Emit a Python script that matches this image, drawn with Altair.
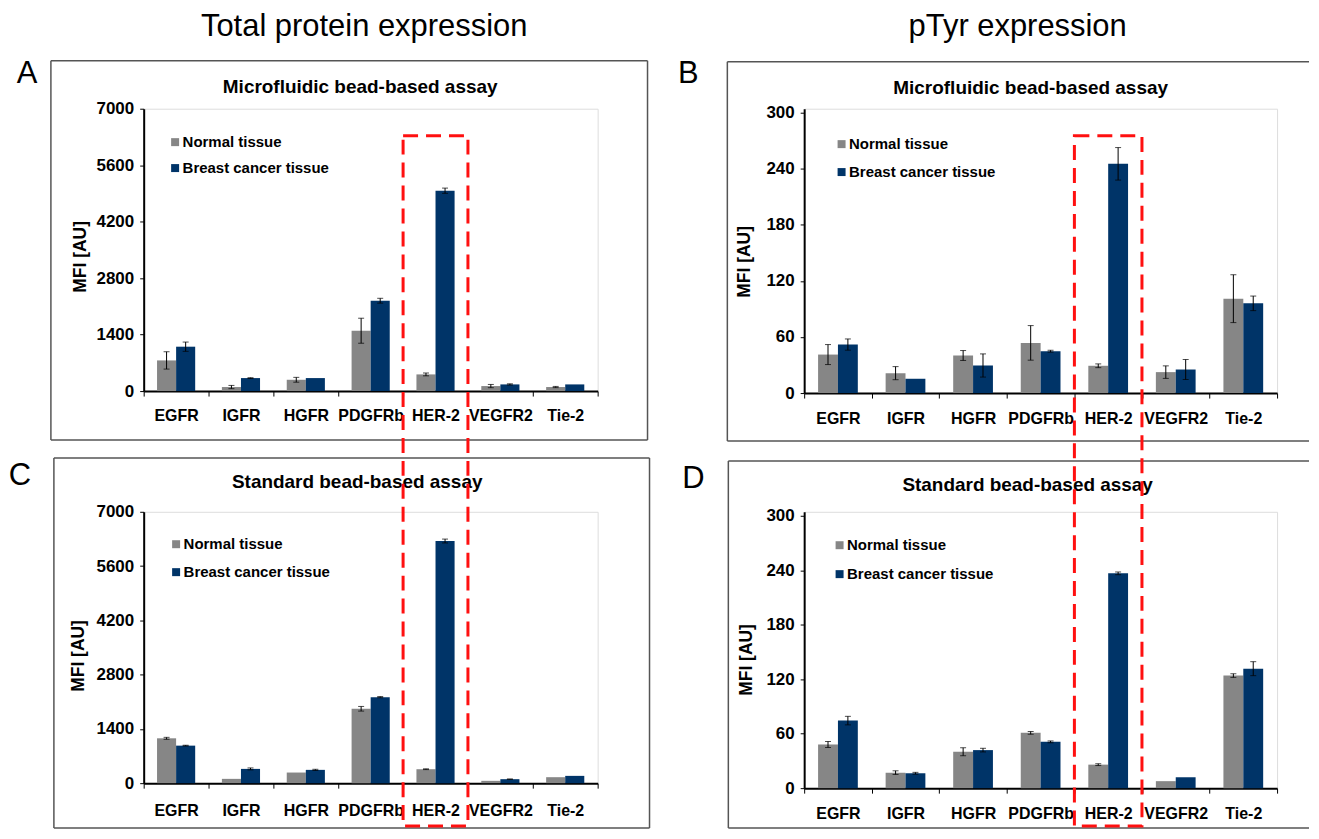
import altair as alt
import pandas as pd

FONT = "Liberation Sans, Arial"
FONT_REG = "Liberation Sans, Arial"

categories = ["EGFR", "IGFR", "HGFR", "PDGFRb", "HER-2", "VEGFR2", "Tie-2"]
series = ["Normal tissue", "Breast cancer tissue"]
colors = ["#868686", "#003468"]

# Panel A: total protein, microfluidic
a_normal = [760, 100, 280, 1496, 413, 124, 100]
a_normal_err = [215, 40, 60, 310, 35, 40, 15]
a_cancer = [1100, 322, 322, 2240, 4967, 165, 165]
a_cancer_err = [115, 10, 0, 60, 65, 15, 0]

# Panel B: pTyr, microfluidic
b_normal = [41.2, 21.3, 40.2, 53.7, 29.2, 22.4, 101]
b_normal_err = [10.7, 7, 5.3, 18.5, 2, 6.7, 25.6]
b_cancer = [51.9, 15.3, 29.5, 44.8, 245.3, 25.2, 96]
b_cancer_err = [6, 0, 12.4, 1, 17.4, 10.7, 7.8]

# Panel C: total protein, standard
c_normal = [1157, 111, 274, 1919, 360, 60, 154]
c_normal_err = [25, 0, 0, 60, 10, 0, 0]
c_cancer = [968, 368, 343, 2219, 6246, 103, 188]
c_cancer_err = [10, 25, 15, 15, 50, 5, 0]

# Panel D: pTyr, standard
d_normal = [48.1, 17.1, 40.1, 60.9, 25.9, 7.7, 124]
d_normal_err = [3.3, 2, 4.4, 1.5, 1, 0, 2]
d_cancer = [74.4, 16.4, 41.9, 51.0, 236.6, 12.0, 131.6]
d_cancer_err = [4.7, 1, 2, 1, 1.5, 0, 7.7]

ticks_total = [0, 1400, 2800, 4200, 5600, 7000]
ticks_ptyr = [0, 60, 120, 180, 240, 300]

one = pd.DataFrame({"k": [0]})


def make_df(normal, normal_err, cancer, cancer_err):
    rows = []
    for i, c in enumerate(categories):
        rows.append(dict(category=c, series=series[0], value=normal[i], err=normal_err[i]))
        rows.append(dict(category=c, series=series[1], value=cancer[i], err=cancer_err[i]))
    df = pd.DataFrame(rows)
    df["lo"] = df["value"] - df["err"]
    df["hi"] = df["value"] + df["err"]
    return df


def text(t, x, y, size, weight="normal", font=FONT):
    return alt.Chart(one).mark_text(
        text=t, fontSize=size, fontWeight=weight, font=font, align="center",
        baseline="middle", color="black", clip=False
    ).encode(x=alt.value(x), y=alt.value(y))


def hline(x1, x2, y, color="#555555", w=1.5):
    return alt.Chart(one).mark_rule(color=color, strokeWidth=w, clip=False).encode(
        x=alt.value(x1), x2=alt.value(x2), y=alt.value(y))


def vline(x, y1, y2, color="#555555", w=1.5):
    return alt.Chart(one).mark_rule(color=color, strokeWidth=w, clip=False).encode(
        x=alt.value(x), y=alt.value(y1), y2=alt.value(y2))


def panel(df, width, height, ydom, yticks, title, title_xy, legend_xy, row_pad,
          ytitle_xy, xlabel_pad, extras):
    xenc = alt.X("category:N", sort=categories,
                 scale=alt.Scale(domain=categories, paddingInner=0, paddingOuter=0),
                 axis=alt.Axis(title=None, labelAngle=0, labelFont=FONT, labelFontSize=16,
                               labelFontWeight="bold", tickBand="extent", tickSize=5,
                               labelPadding=xlabel_pad, labelBaseline="middle",
                               labelOverlap=False, labelLimit=300, domainWidth=2,
                               domainColor="black", tickColor="black", labelColor="black"))
    xo = alt.XOffset("series:N", sort=series,
                     scale=alt.Scale(domain=series, paddingInner=0, paddingOuter=0.7))
    yenc = alt.Y("value:Q", scale=alt.Scale(domain=[0, ydom], nice=False, zero=True),
                 axis=alt.Axis(values=yticks, format="d", title="MFI [AU]",
                               labelFont=FONT, labelFontSize=17, labelFontWeight="bold",
                               tickSize=4, labelPadding=6, titleFont=FONT, titleFontSize=17.5,
                               titleFontWeight="bold", titleX=ytitle_xy[0], titleY=ytitle_xy[1],
                               titleAngle=-90, titleAlign="center", titleBaseline="middle",
                               domainWidth=2, domainColor="black", tickColor="black",
                               labelColor="black", titleColor="black", grid=False))
    color = alt.Color("series:N", sort=series,
                      scale=alt.Scale(domain=series, range=colors),
                      legend=alt.Legend(title=None, orient="none", legendX=legend_xy[0],
                                        legendY=legend_xy[1], symbolType="square",
                                        symbolSize=64, symbolStrokeWidth=0, labelFont=FONT,
                                        labelFontSize=15, labelFontWeight="bold",
                                        labelOffset=0, rowPadding=row_pad, padding=0,
                                        labelLimit=400, labelColor="black"))
    bars = alt.Chart(df).mark_bar().encode(x=xenc, xOffset=xo, y=yenc, color=color)
    edf = df[df["err"] > 0]
    xe = alt.X("category:N", sort=categories)
    xoe = alt.XOffset("series:N", sort=series)
    rules = alt.Chart(edf).mark_rule(color="black", strokeWidth=1).encode(
        x=xe, xOffset=xoe, y="lo:Q", y2="hi:Q")
    cap_lo = alt.Chart(edf).mark_tick(color="black", size=6, thickness=1).encode(
        x=xe, xOffset=xoe, y="lo:Q")
    cap_hi = alt.Chart(edf).mark_tick(color="black", size=6, thickness=1).encode(
        x=xe, xOffset=xoe, y="hi:Q")
    ttl = text(title, title_xy[0], title_xy[1], 19, "bold")
    layers = [bars, rules, cap_lo, cap_hi, ttl] + extras
    return alt.layer(*layers).properties(width=width, height=height)


def red_box(top, bottom):
    red_df = pd.DataFrame({"category": ["HER-2"]})
    return alt.Chart(red_df).mark_rect(
        fill="white", fillOpacity=0, stroke="#ff1010", strokeWidth=3,
        strokeDash=[15, 8], clip=False
    ).encode(x=alt.X("category:N", sort=categories), y=alt.value(top), y2=alt.value(bottom))


df_a = make_df(a_normal, a_normal_err, a_cancer, a_cancer_err)
df_b = make_df(b_normal, b_normal_err, b_cancer, b_cancer_err)
df_c = make_df(c_normal, c_normal_err, c_cancer, c_cancer_err)
df_d = make_df(d_normal, d_normal_err, d_cancer, d_cancer_err)

# invisible frame defining the whole picture's bounds (page 8..1310, 8..829)
frame = alt.Chart(one).mark_rect(opacity=0, clip=False).encode(
    x=alt.value(-133), x2=alt.value(1169), y=alt.value(-99), y2=alt.value(722))

extras_a = [
    frame,
    text("Total protein expression", 221, -82, 31, "normal", FONT_REG),
    text("A", -117, -35, 31, "normal", FONT_REG),
    hline(-93, 505, -48), hline(-93, 505, 332), vline(-93, -48, 332), vline(505, -48, 332),
]
extras_b = [
    text("pTyr expression", 214, -82, 31, "normal", FONT_REG),
    text("B", -116, -35, 31, "normal", FONT_REG),
    hline(-77, 506, -47), hline(-77, 506, 333), vline(-77, -47, 333),
]
extras_c = [
    text("C", -124, -36, 31, "normal", FONT_REG),
    hline(-90, 507, -54), hline(-90, 507, 317), vline(-90, -54, 317), vline(507, -54, 317),
    red_box(-377, 315),
]
extras_d = [
    text("D", -111, -33, 31, "normal", FONT_REG),
    hline(-76, 506, -51), hline(-76, 506, 317), vline(-76, -51, 317),
    red_box(-377, 315),
]

A = panel(df_a, 455, 283, 7000, ticks_total, "Microfluidic bead-based assay", (217, -22),
          (24, 26), 10, (-63, 148), 20, extras_a)
B = panel(df_b, 474, 285, 300 * 285 / 281, ticks_ptyr, "Microfluidic bead-based assay",
          (227, -21), (30, 28), 12, (-60, 153), 21, extras_b)
C = panel(df_c, 455, 272, 7000, ticks_total, "Standard bead-based assay", (214, -30),
          (25, 25), 12, (-65, 144), 22, extras_c)
D = panel(df_d, 474, 277, 300 * 277 / 273, ticks_ptyr, "Standard bead-based assay",
          (224, -27), (28, 26), 13, (-58, 148), 20, extras_d)

chart = alt.concat(
    A, B, C, D, columns=2, spacing={"row": 119, "column": 207}, bounds="flush", padding=0
).resolve_scale(
    x="independent", y="independent", color="independent", xOffset="independent"
).resolve_legend(color="independent").configure_view(
    stroke="black", strokeWidth=1.5
).configure(background="white")

chart.save("out.html", embed_options={"renderer": "svg", "actions": False})
